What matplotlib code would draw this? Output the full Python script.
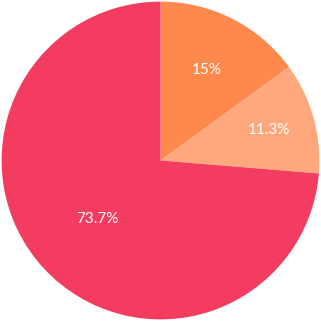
import numpy as np
import matplotlib.pyplot as plt

labels = ["15%", "11.3%", "73.7%"]
values = [15, 11.3, 73.7]
colors = ["#FF884C", "#FFA87E", "#F43B60"]
label_r = [0.64, 0.71, 0.54]

fig = plt.figure(figsize=(3.21, 3.21), dpi=100)
ax = fig.add_axes([0, 0, 1, 1])
wedges, texts = ax.pie(values, colors=colors, startangle=90, counterclock=False,
                       radius=1, wedgeprops=dict(linewidth=0))
for w, lab, r in zip(wedges, labels, label_r):
    ang = np.deg2rad((w.theta1 + w.theta2) / 2)
    ax.text(r * np.cos(ang), r * np.sin(ang), lab, ha="center", va="center",
            color="white", fontsize=11, family="Lato")
ax.set_xlim(-1.01, 1.01)
ax.set_ylim(-1.01, 1.01)
ax.set_aspect("equal")
ax.axis("off")
fig.savefig("out.png", dpi=100)
